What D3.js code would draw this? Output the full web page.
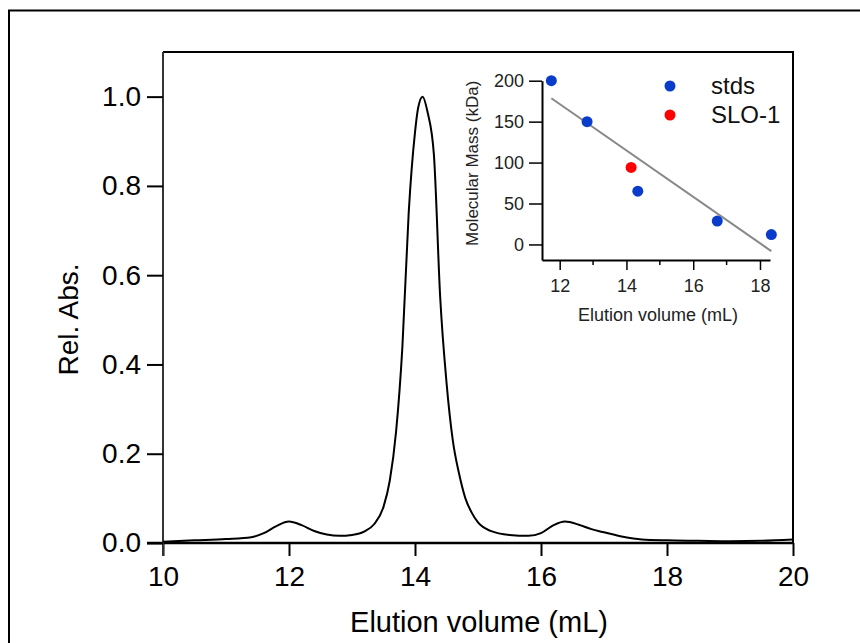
<!DOCTYPE html>
<html>
<head>
<meta charset="utf-8">
<script src="https://cdn.jsdelivr.net/npm/d3@7"></script>
<style>
  body { margin: 0; background: #fff; }
  svg { display: block; font-family: "Liberation Sans", Arial, sans-serif; }
</style>
</head>
<body>
<svg id="chart" width="860" height="643"></svg>
<script>
// chromatogram
const elution = [10, 10.5, 11, 11.4, 11.6, 11.8, 12.0, 12.2, 12.4, 12.6, 12.8, 13.0, 13.2, 13.35, 13.5, 13.6, 13.7, 13.8, 13.9, 14.0, 14.05, 14.12, 14.2, 14.3, 14.4, 14.5, 14.6, 14.7, 14.8, 14.9, 15.0, 15.2, 15.5, 15.8, 16.0, 16.2, 16.38, 16.6, 16.8, 17.0, 17.3, 17.6, 18, 18.5, 19, 19.5, 20];
const relAbs = [0.003, 0.006, 0.009, 0.013, 0.022, 0.038, 0.048, 0.040, 0.027, 0.019, 0.016, 0.018, 0.026, 0.042, 0.081, 0.14, 0.25, 0.44, 0.74, 0.92, 0.975, 1.0, 0.965, 0.87, 0.55, 0.36, 0.23, 0.155, 0.10, 0.068, 0.046, 0.027, 0.018, 0.016, 0.022, 0.040, 0.048, 0.041, 0.031, 0.024, 0.014, 0.008, 0.006, 0.005, 0.004, 0.005, 0.008];
const xTicks = [10, 12, 14, 16, 18, 20];
const yTicks = [0, 0.2, 0.4, 0.6, 0.8, 1.0];

// inset: calibration
const stdVol = [11.75, 12.82, 14.34, 16.72, 18.34];
const stdMass = [200, 150, 65, 28.5, 12];
const sloVol = [14.14];
const sloMass = [94];
const fitVol = [11.75, 18.34];
const fitMass = [178.5, -8.2];
const insetXTicks = [12, 14, 16, 18];
const insetXMinor = [13, 15, 17];
const insetYTicks = [0, 50, 100, 150, 200];
const legendNames = ["stds", "SLO-1"];
const legendColors = ["#0a3ccc", "#ff0000"];

const svg = d3.select("#chart");

// outer frame (runs off the page at right / bottom)
svg.append("rect")
  .attr("x", 9).attr("y", 10.5)
  .attr("width", 900).attr("height", 700)
  .attr("fill", "none").attr("stroke", "#000").attr("stroke-width", 2);

// main plot
const m = { left: 163, right: 793, top: 52, bottom: 543 };
const x = d3.scaleLinear().domain([10, 20]).range([m.left, m.right]);
const y = d3.scaleLinear().domain([0, 1.1]).range([m.bottom, m.top]);

// top and right of the box
svg.append("path")
  .attr("d", `M${m.left},${m.top}H${m.right}V${m.bottom}`)
  .attr("fill", "none").attr("stroke", "#000").attr("stroke-width", 2);

const xAxis = svg.append("g")
  .attr("transform", `translate(0,${m.bottom})`)
  .call(d3.axisBottom(x).tickValues(xTicks).tickSize(13).tickSizeOuter(0).tickPadding(10).tickFormat(d3.format("d")));
xAxis.select(".domain").attr("stroke-width", 2.5).attr("d", `M${m.left - 16},0H${m.right}`);
xAxis.selectAll(".tick line").attr("stroke-width", 2);
xAxis.selectAll("text").style("font-size", "28px").attr("fill", "#000");

const yAxis = svg.append("g")
  .attr("transform", `translate(${m.left},0)`)
  .call(d3.axisLeft(y).tickValues(yTicks).tickSize(16).tickSizeOuter(0).tickPadding(6).tickFormat(d3.format(".1f")));
yAxis.select(".domain").attr("stroke-width", 2).attr("stroke", "#333").attr("d", `M0,${m.top}V${m.bottom + 13}`);
yAxis.selectAll(".tick line").attr("stroke-width", 2);
yAxis.selectAll("text").style("font-size", "28px").attr("fill", "#000");

svg.append("text")
  .attr("x", (m.left + m.right) / 2 + 1).attr("y", 632)
  .attr("text-anchor", "middle").style("font-size", "29px")
  .text("Elution volume (mL)");

svg.append("text")
  .attr("transform", `translate(78,${(m.top + m.bottom) / 2 + 22}) rotate(-90)`)
  .attr("text-anchor", "middle").style("font-size", "28px")
  .text("Rel. Abs.");

const line = d3.line()
  .x((d, i) => x(elution[i]))
  .y(d => y(d))
  .curve(d3.curveMonotoneX);

svg.append("path")
  .datum(relAbs)
  .attr("d", line)
  .attr("fill", "none").attr("stroke", "#000").attr("stroke-width", 2);

// inset
const im = { left: 542, right: 770, top: 80.7, bottom: 260 };
const ix = d3.scaleLinear().domain([11.47, 18.3]).range([im.left, im.right]);
const iy = d3.scaleLinear().domain([-19, 200]).range([im.bottom, im.top]);

const ixAxis = svg.append("g")
  .attr("transform", `translate(0,${im.bottom})`)
  .call(d3.axisBottom(ix).tickValues(insetXTicks).tickSize(10).tickSizeOuter(0).tickPadding(9).tickFormat(d3.format("d")));
ixAxis.select(".domain").attr("stroke-width", 2);
ixAxis.selectAll(".tick line").attr("stroke-width", 1.5);
ixAxis.selectAll("text").style("font-size", "18px").attr("fill", "#222");

svg.append("g")
  .selectAll("line")
  .data(insetXMinor)
  .join("line")
  .attr("x1", d => ix(d)).attr("x2", d => ix(d))
  .attr("y1", im.bottom).attr("y2", im.bottom + 5)
  .attr("stroke", "#000").attr("stroke-width", 1.5);

const iyAxis = svg.append("g")
  .attr("transform", `translate(${im.left},0)`)
  .call(d3.axisLeft(iy).tickValues(insetYTicks).tickSize(13).tickSizeOuter(0).tickPadding(5));
iyAxis.select(".domain").attr("stroke-width", 2);
iyAxis.selectAll(".tick line").attr("stroke-width", 1.5);
iyAxis.selectAll("text").style("font-size", "18px").attr("fill", "#222");

svg.append("text")
  .attr("x", (im.left + im.right) / 2 + 2).attr("y", 321)
  .attr("text-anchor", "middle").style("font-size", "18px").attr("fill", "#222")
  .text("Elution volume (mL)");

svg.append("text")
  .attr("transform", `translate(478,${(im.top + im.bottom) / 2 - 7}) rotate(-90)`)
  .attr("text-anchor", "middle").style("font-size", "17px").attr("fill", "#222")
  .text("Molecular Mass (kDa)");

// fit line
svg.append("line")
  .attr("x1", ix(fitVol[0])).attr("y1", iy(fitMass[0]))
  .attr("x2", ix(fitVol[1])).attr("y2", iy(fitMass[1]))
  .attr("stroke", "#888").attr("stroke-width", 2);

svg.append("g")
  .selectAll("circle")
  .data(stdVol)
  .join("circle")
  .attr("cx", d => ix(d))
  .attr("cy", (d, i) => iy(stdMass[i]))
  .attr("r", 5.5)
  .attr("fill", legendColors[0]);

svg.append("g")
  .selectAll("circle")
  .data(sloVol)
  .join("circle")
  .attr("cx", d => ix(d))
  .attr("cy", (d, i) => iy(sloMass[i]))
  .attr("r", 5.5)
  .attr("fill", legendColors[1]);

// legend
const legend = svg.append("g").attr("transform", "translate(670,86)");
legend.selectAll("circle")
  .data(legendNames)
  .join("circle")
  .attr("cx", 0).attr("cy", (d, i) => i * 29)
  .attr("r", 5.5)
  .attr("fill", (d, i) => legendColors[i]);
legend.selectAll("text")
  .data(legendNames)
  .join("text")
  .attr("x", 41).attr("y", (d, i) => i * 29 + 8)
  .style("font-size", "24px").attr("fill", "#111")
  .text(d => d);
</script>
</body>
</html>
